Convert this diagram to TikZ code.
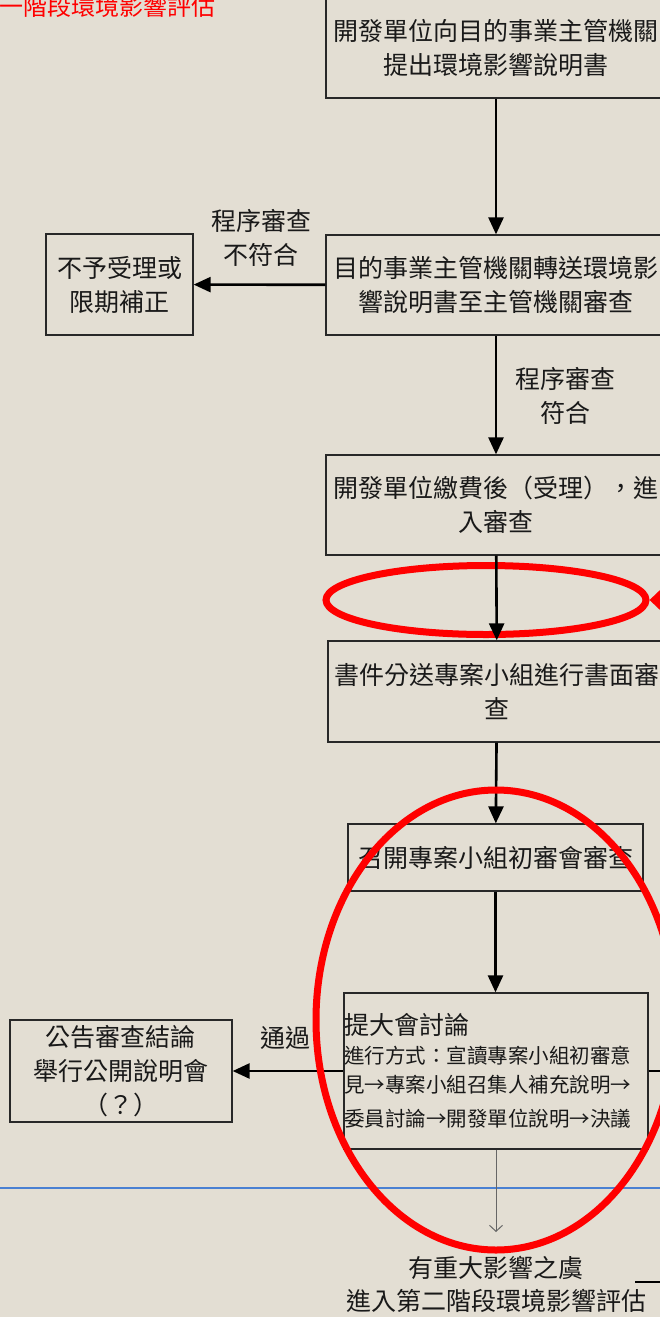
\documentclass[tikz,border=0pt]{standalone}
\usepackage{fontspec}
\newfontfamily\cjk{Noto Sans CJK TC}
\usetikzlibrary{arrows.meta,shapes.geometric}
\definecolor{bg}{RGB}{227,222,211}
\definecolor{boxline}{RGB}{40,40,40}
\definecolor{txt}{RGB}{25,25,25}
\definecolor{blueline}{RGB}{74,128,210}
\definecolor{redmark}{RGB}{255,0,0}
\begin{document}
\begin{tikzpicture}[x=1pt,y=-1pt,
  box/.style={draw=boxline,line width=1.3pt,align=center,inner sep=0pt,text=txt,
    font=\cjk\fontsize{25}{34}\selectfont},
  lbl/.style={align=center,inner sep=0pt,text=txt,font=\cjk\fontsize{25}{34}\selectfont},
  flow/.style={draw=black,line width=2.6pt,-{Triangle[length=17pt,width=15pt]}},
  ring/.style={draw=redmark,line width=7pt,ellipse,inner sep=0pt},
]
\useasboundingbox (0,0) rectangle (660,1317);
\clip (0,0) rectangle (660,1317);
\fill[bg] (0,0) rectangle (660,1317);

% title (cut off)
\node[anchor=east,inner sep=0pt,text=redmark,font=\cjk\fontsize{24}{24}\selectfont] (title) at (216,6) {第一階段環境影響評估};

% blue guide line
\coordinate (bl1) at (0,1188);
\coordinate (bl2) at (660,1188);
\draw[blueline,line width=1.5pt] (bl1) -- (bl2);

% boxes
\node[box,minimum width=340pt,minimum height=100pt] (b1) at (496,48) {開發單位向目的事業主管機關\\提出環境影響說明書};
\node[box,minimum width=340pt,minimum height=100pt] (b2) at (496,285) {目的事業主管機關轉送環境影\\響說明書至主管機關審查};
\node[box,minimum width=147pt,minimum height=101pt] (rej) at (119.5,284.5) {不予受理或\\限期補正};
\node[box,minimum width=340pt,minimum height=100pt] (b3) at (496,505) {開發單位繳費後（受理），進\\入審查};
\node[box,minimum width=338pt,minimum height=101pt] (b4) at (497,691.5) {書件分送專案小組進行書面審\\查};
\node[box,minimum width=295pt,minimum height=67pt] (b5) at (495.5,857.5) {召開專案小組初審會審查};
\node[box,text width=304pt,align=left,minimum height=156pt] (b6) at (496,1071)
  {{\fontsize{25}{32}\selectfont 提大會討論\par}
   \fontsize{20.5}{29}\selectfont 進行方式：宣讀專案小組初審意\\見→專案小組召集人補充說明→\\委員討論→開發單位說明→決議};
\node[box,minimum width=222pt,minimum height=102pt] (pub) at (121,1071) {公告審查結論\\舉行公開說明會\\（？）};

% labels
\node[lbl] (l1) at (261,238) {程序審查\\不符合};
\node[lbl] (l2) at (565,396) {程序審查\\符合};
\node[lbl] (l3) at (285,1038) {通過};
\node[lbl,font=\cjk\fontsize{25}{33}\selectfont] (end) at (496,1284) {有重大影響之虞\\進入第二階段環境影響評估};

% small red ring
\node[ring,minimum width=320pt,minimum height=69pt] (e1) at (486,600) {};
\coordinate (ra) at (720,600);
\draw[redmark,line width=3pt,-{Triangle[length=12pt,width=22pt]}] (ra) -- (e1.east);

% connectors
\draw[flow] (b1) -- (b2);
\draw[flow] (b2) -- (rej);
\draw[flow] (b2) -- (b3);
\draw[flow] (b3) -- (b4);
\draw[flow] (b4) -- (b5);
\draw[flow] (b5.south) -- (b5.south |- b6.north);
\draw[flow] (b6.west) -- (pub.east);
\coordinate (rx) at (700,1071);
\draw[black,line width=2.6pt] (b6.east) -- (rx);
\coordinate (gd) at (496,1232);
\draw[black!60,line width=1pt,-{Straight Barb[length=6pt,width=13pt]}] (b6.south -| gd) -- (gd);
\coordinate (k1) at (635,1282);
\coordinate (k2) at (700,1282);
\draw[black,line width=2.6pt] (k1) -- (k2);

% big red ring
\node[ring,minimum width=360pt,minimum height=460pt] (e2) at (496,1020) {};
\end{tikzpicture}
\end{document}
